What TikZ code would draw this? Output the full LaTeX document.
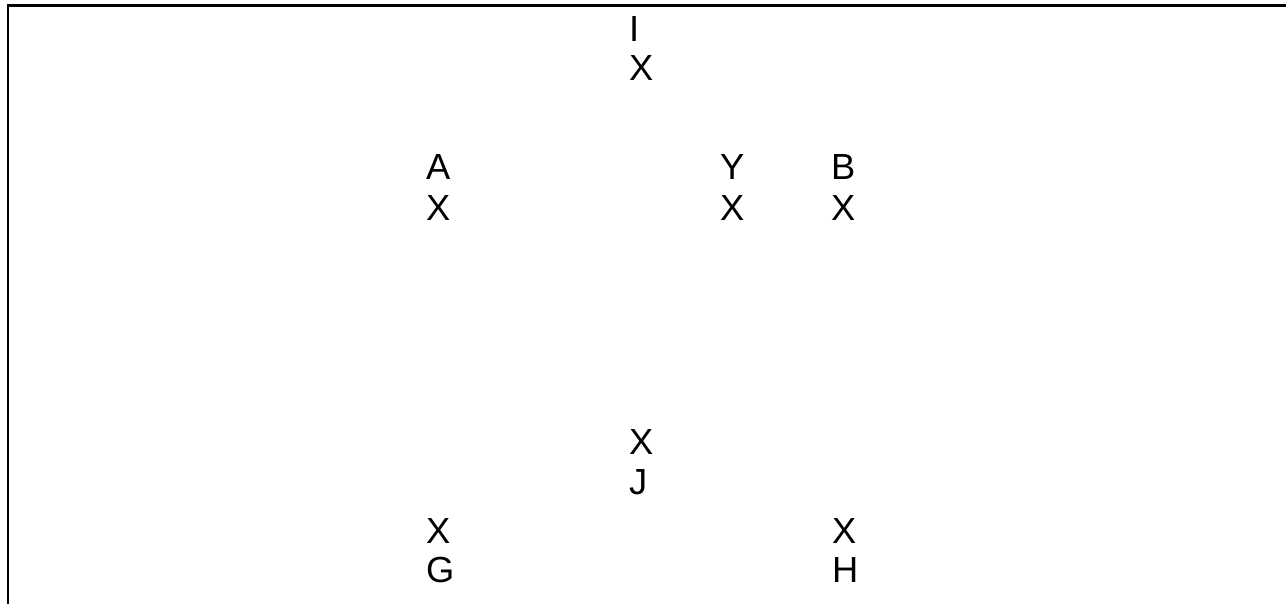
\documentclass[tikz,border=0pt]{standalone}
\usepackage{fontspec}
\setmainfont{Liberation Sans}
\begin{document}
\begin{tikzpicture}[x=1pt,y=-1pt,
  lbl/.style={anchor=base west,inner sep=0pt,outer sep=0pt,font=\fontsize{36.3}{40}\selectfont},
  frame/.style={line width=2.6pt,line cap=butt}]
\useasboundingbox (0,0) rectangle (1286,604);
\coordinate (fb) at (8,606);
\coordinate (fc) at (8,5.5);
\coordinate (fr) at (1288,5.5);
\draw[frame] (fb) -- (fc) -- (fr);
% I block
\node[lbl] (i1) at (629,42) {I};
\node[lbl] (i2) at (629,81) {X};
% A block
\node[lbl] (a1) at (426,180) {A};
\node[lbl] (a2) at (426,221) {X};
% Y block
\node[lbl] (y1) at (720,180) {Y};
\node[lbl] (y2) at (720,221) {X};
% B block
\node[lbl] (b1) at (831,180) {B};
\node[lbl] (b2) at (831,221) {X};
% J block
\node[lbl] (j1) at (629,454) {X};
\node[lbl] (j2) at (629,494) {J};
% G block
\node[lbl] (g1) at (426,543) {X};
\node[lbl] (g2) at (426,582) {G};
% H block
\node[lbl] (h1) at (832,543) {X};
\node[lbl] (h2) at (832,582) {H};
\end{tikzpicture}
\end{document}
